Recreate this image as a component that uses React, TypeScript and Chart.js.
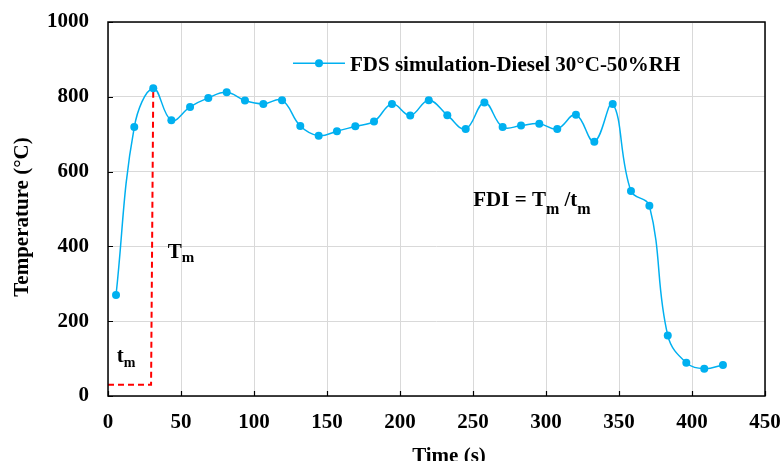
import React, { useEffect, useRef } from "react";
import { Chart, registerables } from "chart.js";

Chart.register(...registerables);

// ---- data ----
const times = [5.5, 18.0, 31.0, 43.4, 56.2, 68.7, 81.3, 93.8, 106.4, 119.2, 131.7, 144.3, 156.8, 169.4, 182.2, 194.5, 207.0, 219.7, 232.4, 245.0, 257.8, 270.3, 282.9, 295.4, 307.7, 320.5, 333.1, 345.7, 358.2, 370.8, 383.4, 396.1, 408.4, 421.2];
const temps = [270, 719, 823, 737, 773, 797, 812, 790, 781, 791, 722, 696, 708, 721, 734, 781, 750, 791, 751, 714, 785, 719, 723, 728, 714, 752, 680, 781, 548, 509, 162, 89, 73, 83];
const guideX = [0, 29.5, 31];
const guideY = [30, 30, 823];
const seriesLabel = "FDS simulation-Diesel 30\u00B0C-50%RH";
const xTitle = "Time (s)";
const yTitle = "Temperature (\u00B0C)";
const xMin = 0, xMax = 450, xStep = 50;
const yMin = 0, yMax = 1000, yStep = 200;

const FONT = "'Liberation Serif', 'Times New Roman', serif";
const BLUE = "#00B0F0";

function drawSub(ctx: CanvasRenderingContext2D, x: number, y: number, parts: [string, boolean][], subSize: number, subOff: number) {
  let cx = x;
  for (const [t, sub] of parts) {
    ctx.font = sub ? `bold ${subSize}px ${FONT}` : `bold 21px ${FONT}`;
    ctx.fillText(t, cx, sub ? y + subOff : y);
    cx += ctx.measureText(t).width;
  }
}

const decorPlugin = {
  id: "decor",
  afterDraw(chart: any) {
    const ctx: CanvasRenderingContext2D = chart.ctx;
    const { left, right, top, bottom } = chart.chartArea;
    const xs = chart.scales.x;
    const ys = chart.scales.y;
    ctx.save();
    // frame
    ctx.strokeStyle = "#000";
    ctx.lineWidth = 1.5;
    ctx.strokeRect(left, top, right - left, bottom - top);
    // inward ticks
    ctx.lineWidth = 1.2;
    ctx.beginPath();
    for (let v = xMin; v <= xMax; v += xStep) {
      const px = Math.round(xs.getPixelForValue(v)) + 0.5;
      ctx.moveTo(px, bottom);
      ctx.lineTo(px, bottom - 5);
    }
    for (let v = yMin; v <= yMax; v += yStep) {
      const py = Math.round(ys.getPixelForValue(v)) + 0.5;
      ctx.moveTo(left, py);
      ctx.lineTo(left + 5, py);
    }
    ctx.stroke();

    // legend
    const ly = ys.getPixelForValue(890);
    const lx0 = xs.getPixelForValue(126.7);
    ctx.strokeStyle = BLUE;
    ctx.lineWidth = 1.5;
    ctx.beginPath();
    ctx.moveTo(lx0, ly);
    ctx.lineTo(lx0 + 52, ly);
    ctx.stroke();
    ctx.fillStyle = BLUE;
    ctx.beginPath();
    ctx.arc(lx0 + 26, ly, 4, 0, Math.PI * 2);
    ctx.fill();
    ctx.fillStyle = "#000";
    ctx.font = `bold 21px ${FONT}`;
    ctx.textBaseline = "alphabetic";
    ctx.textAlign = "left";
    ctx.fillText(seriesLabel, lx0 + 57, ly + 8);

    // annotations
    drawSub(ctx, xs.getPixelForValue(41), ys.getPixelForValue(369), [["T", false], ["m", true]], 15, 4.5);
    drawSub(ctx, xs.getPixelForValue(6.0), ys.getPixelForValue(92), [["t", false], ["m", true]], 14, 5.5);
    drawSub(ctx, xs.getPixelForValue(250.2), ys.getPixelForValue(509), [["FDI = T", false], ["m", true], [" /t", false], ["m", true]], 16, 8);

    // axis titles
    ctx.font = `bold 21px ${FONT}`;
    ctx.textAlign = "center";
    ctx.fillText(xTitle, 449, 462);
    ctx.translate(27.5, 217);
    ctx.rotate(-Math.PI / 2);
    ctx.fillText(yTitle, 0, 0);
    ctx.restore();
  },
};

function zeroPad(s: any) {
  s.paddingTop = 0;
  s.paddingBottom = 0;
  s.paddingLeft = 0;
  s.paddingRight = 0;
}

export default function App() {
  const ref = useRef<HTMLCanvasElement | null>(null);
  useEffect(() => {
    document.body.style.margin = "0";
    if (!ref.current) return;
    const chart = new Chart(ref.current, {
      type: "line",
      data: {
        datasets: [
          {
            label: seriesLabel,
            data: times.map((t, i) => ({ x: t, y: temps[i] })),
            borderColor: BLUE,
            backgroundColor: BLUE,
            borderWidth: 1.5,
            pointRadius: 4,
            pointBorderWidth: 0,
            pointBackgroundColor: BLUE,
            tension: 0.4,
            order: 0,
          },
          {
            label: "guide",
            data: guideX.map((x, i) => ({ x, y: guideY[i] })),
            borderColor: "#FF0000",
            borderWidth: 2,
            borderDash: [6, 4],
            pointRadius: 0,
            tension: 0,
            order: 1,
          },
        ],
      },
      options: {
        animation: false,
        responsive: false,
        layout: { padding: { top: 22, right: 16, left: 0, bottom: 0 } },
        plugins: { legend: { display: false }, tooltip: { enabled: false } },
        scales: {
          x: {
            type: "linear",
            min: xMin,
            max: xMax,
            ticks: { stepSize: xStep, color: "#000", font: { family: FONT, size: 21, weight: "bold" }, padding: 14, maxRotation: 0, callback: (v: any) => String(v) },
            grid: { color: "#d9d9d9", lineWidth: 1, drawTicks: false },
            border: { display: false },
            afterFit: (s: any) => { s.height = 65; zeroPad(s); },
          },
          y: {
            type: "linear",
            min: yMin,
            max: yMax,
            ticks: { stepSize: yStep, color: "#000", font: { family: FONT, size: 21, weight: "bold" }, padding: 19, callback: (v: any) => String(v) },
            grid: { color: "#d9d9d9", lineWidth: 1, drawTicks: false },
            border: { display: false },
            afterFit: (s: any) => { s.width = 108; zeroPad(s); },
          },
        },
      },
      plugins: [decorPlugin],
    } as any);
    return () => chart.destroy();
  }, []);
  return (
    <div style={{ width: 781, height: 461, background: "#fff" }}>
      <canvas ref={ref} width={781} height={461} />
    </div>
  );
}
